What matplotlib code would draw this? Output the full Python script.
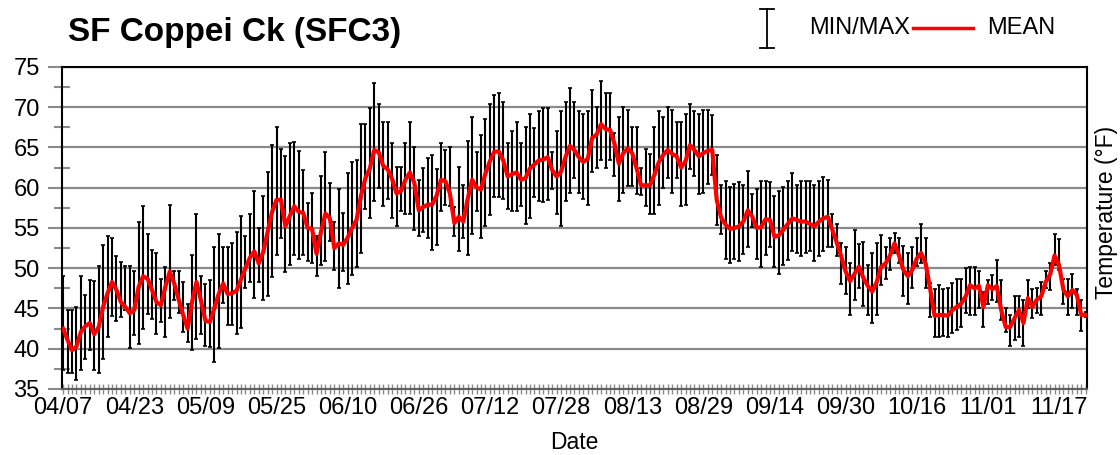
import numpy as np
import pandas as pd
import matplotlib
matplotlib.use("Agg")
import matplotlib.pyplot as plt
import matplotlib.dates as mdates
from matplotlib.lines import Line2D
from matplotlib.ticker import FixedLocator, MultipleLocator

plt.rcParams['font.family'] = ['Liberation Sans', 'DejaVu Sans']

# daily values, 10 days per row, starting 04/07
max_t = [49.0,44.8,44.8,45.2,49.0,46.7,48.6,48.4,50.3,52.9,
         54.0,53.7,51.5,50.8,50.3,50.3,49.6,55.7,57.7,54.3,
         52.3,51.9,48.7,50.1,57.9,49.6,49.6,48.3,45.6,51.7,
         56.8,49.0,48.1,48.6,52.6,54.2,52.6,52.6,53.1,54.5,
         56.5,54.0,56.8,59.6,55.0,59.0,61.9,65.3,67.5,64.8,
         63.9,65.5,65.7,64.6,62.2,58.1,59.3,54.0,61.5,64.4,
         60.6,55.8,59.8,56.9,61.8,63.2,63.4,67.9,67.9,69.9,
         73.0,70.4,68.2,68.2,65.6,62.6,62.6,65.6,68.2,65.0,
         61.0,62.5,63.7,64.1,62.3,65.6,64.7,65.0,57.6,62.6,
         60.4,65.8,68.8,64.4,66.5,68.5,70.4,71.5,71.8,70.6,
         65.6,67.0,68.2,65.6,67.6,69.1,67.4,69.5,69.9,69.9,
         64.4,67.0,69.5,70.6,72.4,70.6,69.5,69.1,69.5,72.1,
         70.0,73.3,71.8,71.8,66.8,68.8,70.0,69.7,67.6,67.6,
         62.5,64.8,64.2,67.6,69.5,68.8,70.0,69.7,68.2,68.2,
         69.1,70.4,69.5,69.1,69.7,69.7,69.0,64.1,60.3,60.8,
         60.1,60.5,60.7,60.3,62.1,59.2,59.8,60.9,60.9,60.7,
         59.0,59.6,60.1,60.8,61.8,60.3,60.8,60.8,60.8,60.3,
         60.8,61.3,61.0,56.8,55.5,53.1,52.7,50.7,54.7,53.0,
         53.3,50.4,51.9,53.1,54.1,52.7,53.8,54.4,53.8,52.8,
         51.9,52.7,53.8,55.5,53.8,48.2,47.4,47.9,47.4,47.6,
         48.2,48.7,48.7,50.0,50.2,50.2,49.7,47.0,48.5,49.1,
         51.0,48.5,45.1,44.2,46.5,46.5,46.1,48.5,47.4,47.6,
         48.3,49.7,50.6,54.2,53.6,48.7,48.7,49.3,47.4,46.1,
         44.6]

min_t = [37.4,37.0,37.0,36.1,37.3,38.7,39.8,37.3,37.0,38.7,
         41.4,44.1,43.5,44.0,44.8,40.1,41.7,40.6,42.4,44.3,
         43.7,41.8,43.3,41.5,43.8,46.1,44.4,42.1,40.9,39.8,
         41.2,41.8,40.3,40.2,38.4,40.1,45.7,42.9,42.9,41.8,
         42.6,47.5,48.3,46.3,48.3,46.1,46.6,48.9,51.7,53.8,
         49.5,50.4,51.6,51.2,51.7,50.9,50.6,49.0,50.4,50.9,
         53.4,49.8,47.6,49.6,48.1,49.1,50.1,51.9,57.4,56.3,
         58.3,60.0,57.7,58.6,56.3,55.2,57.1,56.8,56.7,54.7,
         54.0,54.5,53.7,52.3,52.9,57.1,57.9,57.7,54.0,52.1,
         53.7,51.6,54.3,57.1,53.8,55.2,56.6,58.8,58.8,58.6,
         57.4,57.1,57.1,57.7,55.5,56.3,58.8,58.3,58.2,58.5,
         59.8,56.8,55.2,58.3,59.4,61.2,59.4,58.6,57.9,62.0,
         62.5,63.4,62.5,63.4,61.5,58.3,59.4,60.2,60.2,59.2,
         59.1,57.7,56.8,56.8,57.9,60.0,61.2,59.4,61.2,57.7,
         57.9,62.3,61.5,59.2,59.4,60.5,61.6,55.4,54.3,51.2,
         50.7,51.2,50.9,51.8,52.6,55.1,51.1,50.2,51.7,52.7,
         50.1,49.3,50.4,51.0,52.1,51.9,51.5,51.9,52.1,50.9,
         51.5,52.1,52.6,52.7,51.5,48.1,46.8,44.2,46.0,47.6,
         45.3,44.2,43.2,44.2,47.9,48.7,49.8,51.9,50.6,46.5,
         45.6,47.6,50.3,50.6,47.6,44.0,41.4,41.4,41.6,41.4,
         42.0,42.3,42.7,44.4,44.2,44.2,45.1,42.7,45.6,46.1,
         45.8,43.6,42.1,40.3,41.1,41.4,40.3,45.0,43.8,44.4,
         44.2,47.5,47.3,50.4,49.8,45.6,44.2,45.1,44.2,42.2,
         43.9]

mean_t = [42.5,41.1,39.8,40.3,42.1,42.8,43.2,41.8,42.7,45.2,
          46.9,48.3,47.3,45.8,45.2,44.4,44.8,47.7,49.0,48.7,
          47.3,45.8,45.4,47.7,49.6,48.1,46.1,44.2,42.5,45.8,
          48.3,46.0,43.5,43.3,45.0,46.8,48.1,46.8,46.9,47.2,
          48.6,50.0,51.3,52.1,50.6,52.0,54.5,57.0,58.5,58.5,
          55.2,56.5,57.7,57.0,56.9,55.0,54.9,51.8,54.5,56.8,
          56.2,52.5,53.1,52.9,53.8,55.0,56.0,59.0,61.2,62.4,
          64.7,64.4,62.7,62.3,61.1,59.3,59.6,61.0,61.9,60.6,
          57.2,57.6,57.9,57.9,59.0,61.0,60.8,59.3,55.6,56.4,
          55.8,58.6,61.0,60.0,59.8,61.8,63.3,64.5,64.5,63.4,
          61.4,61.7,61.9,61.0,61.2,62.4,62.9,63.4,63.5,63.8,
          62.2,61.4,62.0,63.8,65.2,64.7,63.8,63.2,63.6,66.2,
          66.6,67.9,67.3,67.2,65.5,63.0,64.3,64.9,64.3,62.4,
          60.3,60.3,60.3,61.6,63.2,64.1,64.7,64.2,63.9,62.5,
          63.3,65.3,64.7,63.9,64.3,64.6,64.7,58.5,56.3,55.4,
          54.9,55.0,55.2,55.8,57.2,56.4,55.0,55.1,56.1,56.0,
          53.9,54.1,54.8,55.5,56.2,56.0,55.8,55.8,55.5,55.2,
          55.8,56.2,56.4,54.8,53.2,51.5,49.6,48.4,49.3,50.2,
          48.8,47.8,47.1,48.3,50.2,50.6,51.6,53.1,51.6,49.8,
          49.0,49.8,51.2,51.9,50.6,47.5,44.1,44.2,44.2,44.1,
          44.8,45.2,45.6,46.5,47.9,47.5,47.8,45.2,47.9,47.4,
          47.8,44.8,42.7,42.7,43.8,44.8,43.2,46.3,45.2,46.1,
          46.5,48.3,49.2,51.6,50.4,47.3,46.5,47.3,46.7,44.2,
          44.2]

start = '2021-04-07'
days = pd.date_range(start, periods=len(mean_t), freq='D')
tick_days = pd.date_range(start, periods=15, freq='16D')

W, H = 1120, 455
fig = plt.figure(figsize=(W / 100, H / 100), dpi=100)
ax = fig.add_axes([62 / W, 1 - 389 / H, (1087 - 62) / W, (389 - 67) / H])

mean_a = np.array(mean_t)
lo = mean_a - np.array(min_t)
hi = np.array(max_t) - mean_a

ax.errorbar(days, mean_a, yerr=[lo, hi], fmt='none', ecolor='black',
            elinewidth=1.5, capsize=1.4, capthick=1.2, zorder=3)
ax.plot(days, mean_a, color='#ff0000', lw=3, zorder=4, solid_joinstyle='round')

# axes limits / grid
ax.set_xlim(days[0] - pd.Timedelta(hours=6), days[-1] + pd.Timedelta(hours=7))
ax.set_ylim(35, 75)
ax.yaxis.set_major_locator(MultipleLocator(5))
ax.yaxis.set_minor_locator(MultipleLocator(2.5))
ax.yaxis.grid(True, which='major', color='#8a8a8a', lw=1.6, zorder=0)
ax.set_axisbelow(True)

ax.xaxis.set_major_locator(FixedLocator(mdates.date2num(tick_days)))
ax.xaxis.set_minor_locator(mdates.DayLocator())
ax.xaxis.set_major_formatter(mdates.DateFormatter('%m/%d'))

ax.tick_params(axis='y', which='major', direction='out', length=10, width=1.5,
               color='#8a8a8a', labelsize=17, pad=6)
ax.tick_params(axis='y', which='minor', direction='inout', length=12, width=1.5,
               color='#8a8a8a')
ax.tick_params(axis='x', which='both', direction='inout', length=7, width=1,
               color='#8a8a8a', labelsize=17, pad=2)

for s in ['left', 'top', 'right']:
    ax.spines[s].set_color('black')
    ax.spines[s].set_linewidth(1.5)
ax.spines['bottom'].set_color('#606060')
ax.spines['bottom'].set_linewidth(1.5)

ax.set_xlabel('Date', fontsize=16.5, labelpad=9)

def fx(x):
    return x / W

def fy(y):
    return 1 - y / H

fig.text(fx(1106), fy(212), 'Temperature (°F)', fontsize=16.5, rotation=90,
         va='center', ha='center')
fig.text(68 / W, 1 - 33 / H, 'SF Coppei Ck (SFC3)', fontsize=24,
         fontweight='bold', va='center', ha='left')

# legend drawn by hand at top right
fig.add_artist(Line2D([fx(767), fx(767)], [fy(9), fy(48)], color='black', lw=1.3))
fig.add_artist(Line2D([fx(760), fx(774)], [fy(9), fy(9)], color='black', lw=1.3))
fig.add_artist(Line2D([fx(760), fx(774)], [fy(48), fy(48)], color='black', lw=1.3))
fig.text(fx(809), fy(28), 'MIN/MAX', fontsize=17, va='center', ha='left')
fig.add_artist(Line2D([fx(913), fx(973)], [fy(28), fy(28)], color='#ff0000', lw=2.5))
fig.text(fx(987), fy(28), 'MEAN', fontsize=17, va='center', ha='left')

fig.savefig('out.png', dpi=100)
